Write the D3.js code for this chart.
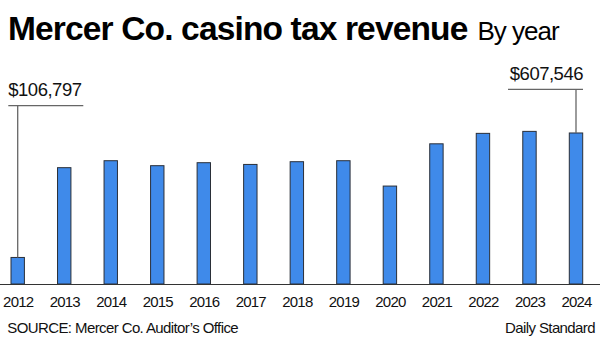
<!DOCTYPE html>
<html>
<head>
<meta charset="utf-8">
<script src="https://cdn.jsdelivr.net/npm/d3@7"></script>
<style>
  body { margin: 0; background: #fff; }
  svg { display: block; font-family: "Liberation Sans", Arial, sans-serif; }
</style>
</head>
<body>
<svg id="chart" width="600" height="350"></svg>
<script>
// Yearly revenue (ends are labelled)
const years = ['2012', '2013', '2014', '2015', '2016', '2017', '2018',
               '2019', '2020', '2021', '2022', '2023', '2024'];
const revenue = [106797, 468000, 496000, 476000, 488000, 481000, 492000,
                 496000, 394000, 564000, 606000, 614000, 607546];
const callouts = ['2012', '2024'];

const svg = d3.select('#chart');
const baseY = 284;

const x = d3.scalePoint()
    .domain(years)
    .range([17.7, 576]);

const y = d3.scaleLinear()
    .domain([0, 700000])
    .range([baseY, 110]);

const barW = 13.4;
const fmt = d3.format('$,');

// Title
const title = svg.append('text')
    .attr('x', 8)
    .attr('y', 40)
    .attr('fill', '#000');
title.append('tspan')
    .attr('font-size', '33.5px')
    .attr('font-weight', 700)
    .attr('letter-spacing', '-0.85px')
    .text('Mercer Co. casino tax revenue');
title.append('tspan')
    .attr('x', 477.5)
    .attr('font-size', '26px')
    .attr('letter-spacing', '-1px')
    .text('By year');

// Bars
const data = years.map((yr, i) => ({ year: yr, value: revenue[i] }));

svg.append('g')
    .selectAll('rect')
    .data(data)
    .join('rect')
    .attr('x', d => x(d.year) - barW / 2)
    .attr('y', d => y(d.value))
    .attr('width', barW)
    .attr('height', d => baseY - y(d.value))
    .attr('fill', '#3f8aea')
    .attr('stroke', '#2a2f38')
    .attr('stroke-width', 1);

// Baseline
svg.append('line')
    .attr('x1', 0).attr('x2', 600)
    .attr('y1', baseY + 0.5).attr('y2', baseY + 0.5)
    .attr('stroke', '#333')
    .attr('stroke-width', 1.2);

// Year labels
const xAxis = svg.append('g')
    .attr('transform', `translate(0,${baseY})`)
    .call(d3.axisBottom(x).tickSize(0).tickPadding(0));
xAxis.select('.domain').remove();
xAxis.selectAll('text')
    .attr('dy', null)
    .attr('y', 23)
    .attr('font-family', '"Liberation Sans", Arial, sans-serif')
    .attr('font-size', '15px')
    .attr('letter-spacing', '-0.8px')
    .attr('fill', '#111');

// Callouts for first and last year
const calloutLayout = {
    '2012': { lineY: 105.7, x1: 8.3, x2: 83.3, anchor: 'start' },
    '2024': { lineY: 89.3, x1: 508, x2: 583, anchor: 'end' }
};

callouts.forEach(yr => {
    const d = data.find(e => e.year === yr);
    const c = calloutLayout[yr];
    const g = svg.append('g');
    g.append('line')
        .attr('x1', c.x1).attr('x2', c.x2)
        .attr('y1', c.lineY).attr('y2', c.lineY)
        .attr('stroke', '#666').attr('stroke-width', 1.3);
    g.append('line')
        .attr('x1', x(yr)).attr('x2', x(yr))
        .attr('y1', c.lineY).attr('y2', y(d.value))
        .attr('stroke', '#666').attr('stroke-width', 1.3);
    g.append('text')
        .attr('x', c.anchor === 'start' ? c.x1 : c.x2)
        .attr('y', c.lineY - 9.7)
        .attr('text-anchor', c.anchor)
        .attr('font-size', '18.5px')
        .attr('letter-spacing', '-0.5px')
        .attr('fill', '#111')
        .text(fmt(d.value));
});

// Footer
svg.append('text')
    .attr('x', 7.3)
    .attr('y', 333.3)
    .attr('font-size', '15px')
    .attr('letter-spacing', '-0.6px')
    .attr('fill', '#111')
    .text('SOURCE: Mercer Co. Auditor\u2019s Office');

svg.append('text')
    .attr('x', 595)
    .attr('y', 333.3)
    .attr('text-anchor', 'end')
    .attr('font-size', '15px')
    .attr('letter-spacing', '-0.6px')
    .attr('fill', '#111')
    .text('Daily Standard');
</script>
</body>
</html>
